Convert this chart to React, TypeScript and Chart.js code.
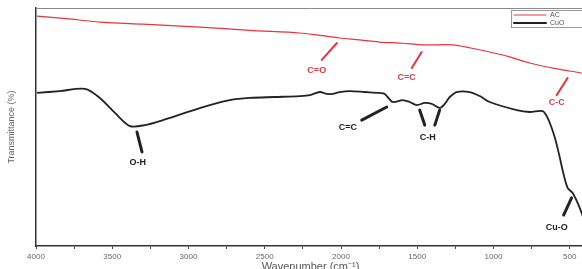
import React, { useEffect, useRef } from 'react';
import { Chart, registerables } from 'chart.js';

Chart.register(...registerables);

// CuO spectrum
const cuoWavenumber = [3993, 3843, 3679, 3581, 3482, 3384, 3286, 3168, 3024, 2860, 2729, 2598, 2434, 2270, 2204, 2139, 2093, 2054, 2008, 1942, 1844, 1746, 1713, 1661, 1595, 1549, 1503, 1451, 1405, 1353, 1320, 1287, 1241, 1156, 1090, 1025, 848, 763, 678, 645, 599, 566, 547, 514, 481, 448, 422, 402];
const cuoTransmittance = [64.3, 65.1, 66.0, 62.2, 55.9, 50.4, 50.8, 52.9, 55.9, 59.2, 61.3, 62.2, 62.6, 63.0, 63.4, 64.7, 63.9, 63.9, 64.7, 65.1, 64.7, 64.3, 63.9, 60.5, 61.3, 60.5, 59.2, 60.1, 59.7, 58.0, 59.7, 62.6, 64.7, 64.7, 63.0, 60.5, 57.1, 56.3, 56.7, 53.8, 45.8, 37.4, 31.9, 24.4, 22.3, 18.1, 13.9, 10.1];

// AC spectrum
const acWavenumber = [3993, 3800, 3581, 3300, 2925, 2600, 2270, 2150, 2008, 1900, 1746, 1600, 1464, 1267, 1150, 1025, 900, 763, 600, 422, 402];
const acTransmittance = [96.6, 95.5, 94.1, 93.2, 92.0, 90.6, 89.5, 88.6, 87.4, 86.7, 85.7, 85.2, 84.5, 84.5, 83.2, 81.5, 79.6, 76.9, 74.6, 72.7, 72.4];

const seriesLabels = ['AC', 'CuO'];
const xMin = 400;
const xMax = 4000;
const xTickValues = [500, 750, 1000, 1250, 1500, 1750, 2000, 2250, 2500, 2750, 3000, 3250, 3500, 3750, 4000];
const xLabelStep = 500;

// band annotations in data coordinates: label, arrow segments, label anchor
const bandLabels = ['O-H', 'C=O', 'C=C', 'C-C', 'C=C', 'C-H', 'Cu-O'];
const bandSeries = ['CuO', 'AC', 'AC', 'AC', 'CuO', 'CuO', 'CuO'];
const bandArrows = [
  [[3338, 47.9, 3305, 39.5]],
  [[2027, 85.3, 2126, 78.2]],
  [[1471, 81.5, 1536, 74.8]],
  [[514, 70.6, 586, 63.4]],
  [[1700, 58.4, 1864, 52.9]],
  [[1484, 57.1, 1451, 50.8], [1353, 57.1, 1385, 50.8]],
  [[488, 20.2, 540, 13.0]],
];
const bandLabelPos = [
  [3332, 34.9],
  [2159, 73.9],
  [1569, 70.6],
  [586, 60.1],
  [1955, 49.6],
  [1431, 45.4],
  [586, 7.6],
];

const RED = '#e8343c';
const BLACK = '#222222';
const FONT = '"Liberation Sans", Arial, sans-serif';

const overlayPlugin = {
  id: 'overlay',
  afterDatasetsDraw(chart: any) {
    const { ctx, chartArea, scales } = chart;
    const xs = scales.x;
    const ys = scales.y;
    ctx.save();
    // top frame line
    ctx.strokeStyle = '#8a8a8a';
    ctx.lineWidth = 1;
    ctx.beginPath();
    ctx.moveTo(chartArea.left, chartArea.top + 0.5);
    ctx.lineTo(chartArea.right, chartArea.top + 0.5);
    ctx.stroke();

    // annotations
    bandLabels.forEach((label, i) => {
      const isAC = bandSeries[i] === 'AC';
      const color = isAC ? RED : BLACK;
      ctx.strokeStyle = color;
      ctx.lineWidth = isAC ? 2 : 3;
      ctx.lineCap = 'round';
      bandArrows[i].forEach(([x1, y1, x2, y2]) => {
        ctx.beginPath();
        ctx.moveTo(xs.getPixelForValue(x1), ys.getPixelForValue(y1));
        ctx.lineTo(xs.getPixelForValue(x2), ys.getPixelForValue(y2));
        ctx.stroke();
      });
      ctx.fillStyle = isAC ? '#d9404a' : BLACK;
      ctx.font = `bold 9px ${FONT}`;
      ctx.textAlign = 'center';
      ctx.textBaseline = 'middle';
      ctx.fillText(label, xs.getPixelForValue(bandLabelPos[i][0]), ys.getPixelForValue(bandLabelPos[i][1]));
    });

    // legend box
    const bx = chartArea.right - 74;
    const by = chartArea.top + 2;
    ctx.fillStyle = '#ffffff';
    ctx.fillRect(bx, by, 80, 17);
    ctx.strokeStyle = '#9a9a9a';
    ctx.lineWidth = 1;
    ctx.strokeRect(bx + 0.5, by + 0.5, 80, 17);
    chart.data.datasets.forEach((ds: any, i: number) => {
      const ly = by + 5 + i * 8;
      ctx.strokeStyle = ds.borderColor;
      ctx.lineWidth = i === 0 ? 1 : 2;
      ctx.beginPath();
      ctx.moveTo(bx + 3, ly);
      ctx.lineTo(bx + 35, ly);
      ctx.stroke();
      ctx.fillStyle = '#555';
      ctx.font = `7px ${FONT}`;
      ctx.textAlign = 'left';
      ctx.textBaseline = 'middle';
      ctx.fillText(ds.label, bx + 39, ly);
    });
    ctx.restore();
  },
};

export default function App() {
  const canvasRef = useRef<HTMLCanvasElement | null>(null);

  useEffect(() => {
    if (!canvasRef.current) return;
    const chart = new Chart(canvasRef.current, {
      type: 'line',
      data: {
        datasets: [
          {
            label: seriesLabels[0],
            data: acWavenumber.map((w, i) => ({ x: w, y: acTransmittance[i] })),
            borderColor: RED,
            borderWidth: 1.2,
            pointRadius: 0,
            tension: 0.3,
          },
          {
            label: seriesLabels[1],
            data: cuoWavenumber.map((w, i) => ({ x: w, y: cuoTransmittance[i] })),
            borderColor: BLACK,
            borderWidth: 1.8,
            pointRadius: 0,
            tension: 0.3,
          },
        ],
      },
      options: {
        responsive: false,
        animation: false,
        layout: { padding: { top: 8, left: 0, right: 1, bottom: 0 } },
        plugins: {
          legend: { display: false },
          tooltip: { enabled: false },
        },
        scales: {
          x: {
            type: 'linear',
            reverse: true,
            min: xMin,
            max: xMax,
            afterBuildTicks: (s: any) => {
              s.ticks = xTickValues.map((v) => ({ value: v }));
            },
            afterFit: (s: any) => {
              s.height = 23;
            },
            ticks: {
              autoSkip: false,
              maxRotation: 0,
              padding: 3,
              color: '#666',
              font: { family: FONT, size: 8 },
              callback: (v: any) => (Number(v) % xLabelStep === 0 ? String(v) : ''),
            },
            grid: { drawOnChartArea: false, tickLength: 3, color: '#444' },
            border: { color: '#333', width: 1.5 },
            title: {
              display: true,
              text: 'Wavenumber (cm⁻¹)',
              color: '#555',
              font: { family: FONT, size: 11 },
              padding: { top: 0, bottom: -5 },
            },
          },
          y: {
            min: 0,
            max: 100,
            afterFit: (s: any) => {
              s.width = 36;
            },
            ticks: { display: false },
            grid: { drawOnChartArea: false, drawTicks: false },
            border: { color: '#333', width: 1.5 },
            title: {
              display: true,
              text: 'Transmittance (%)',
              color: '#666',
              font: { family: FONT, size: 9 },
              padding: { top: 6, bottom: 0 },
            },
          },
        },
      },
      plugins: [overlayPlugin],
    });
    return () => chart.destroy();
  }, []);

  return (
    <div style={{ position: 'fixed', left: 0, top: 0, width: 586, height: 269, background: '#fff' }}>
      <canvas ref={canvasRef} width={586} height={269} style={{ display: 'block' }} />
    </div>
  );
}
